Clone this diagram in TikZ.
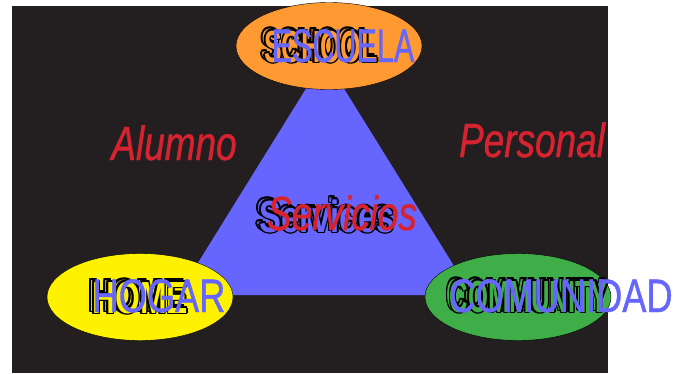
\documentclass[tikz,border=0pt]{standalone}
\usepackage{fontspec}
\setmainfont{Liberation Sans}
\newfontfamily\wordfont[FakeStretch=0.77, FakeBold=0.8]{Liberation Sans}
\newfontfamily\escuelafont[FakeStretch=0.65, FakeBold=0.8]{Liberation Sans}
\newfontfamily\homefont[FakeStretch=0.71]{Liberation Sans}
\newfontfamily\servfont[FakeStretch=0.73]{Liberation Sans}
\newfontfamily\schoolfont[FakeStretch=0.59]{Liberation Sans}
\newfontfamily\commfont[FakeStretch=0.57]{Liberation Sans}
\usepackage[usenames, dvipsnames, x11names]{xcolor}
\usepackage{tikz}
\usetikzlibrary{shapes.geometric}
\definecolor{BoardDark}{HTML}{231F20}
\definecolor{TriBlue}{HTML}{6666FF}
\definecolor{SchoolOrange}{HTML}{FF9A33}
\definecolor{HomeYellow}{HTML}{FFF200}
\definecolor{CommGreen}{HTML}{3FAE49}
\definecolor{LinkRed}{HTML}{D7232F}
\tikzset{
  place/.style={ellipse, draw=black, thin, minimum width=186, minimum height=87},
  engword/.style={text=black, anchor=base, inner sep=0},
  spanword/.style={font=\wordfont\fontsize{47}{50}\selectfont, text=TriBlue, anchor=base, inner sep=0},
  linkword/.style={font=\wordfont\itshape\fontsize{48}{50}\selectfont, text=LinkRed, anchor=base, inner sep=0}
}
% outlined word: name, x, y, inner colour, font, text
\newcommand\outlineword[6]{%
  \foreach \gx/\gy in {-1.6/0, 1.6/0, 0/-1.6, 0/1.6, -1.15/-1.15, 1.15/1.15, -1.15/1.15, 1.15/-1.15}
    \node[engword, font=#5] at (#2+\gx, #3+\gy) {#6};
  \node[engword, font=#5, text=#4] (#1) at (#2, #3) {#6};
}

\begin{document}
\begin{tikzpicture}[x=1pt, y=-1pt]
        \useasboundingbox (0,0) rectangle (674,373);
        \fill[BoardDark] (12,6) rectangle (608,373);
        \fill[TriBlue] (325,58) -- (472,295) -- (178,295) -- cycle;
        \node[place, fill=SchoolOrange] (school) at (329,46) {};
        \node[place, fill=HomeYellow] (home) at (140,297) {};
        \node[place, fill=CommGreen] (community) at (518,297) {};
        % english words, ghosted twice
        \outlineword{schoolback}{318}{60}{SchoolOrange}{\schoolfont\bfseries\fontsize{45}{48}\selectfont}{SCHOOL}
        \outlineword{schoolword}{321}{62}{SchoolOrange}{\schoolfont\bfseries\fontsize{45}{48}\selectfont}{SCHOOL}
        \outlineword{homeback}{137}{311}{HomeYellow}{\homefont\bfseries\fontsize{45}{48}\selectfont}{HOME}
        \outlineword{homeword}{140}{313}{HomeYellow}{\homefont\bfseries\fontsize{45}{48}\selectfont}{HOME}
        \outlineword{commback}{526}{310}{CommGreen}{\commfont\bfseries\fontsize{45}{48}\selectfont}{COMMUNITY}
        \outlineword{commword}{529}{312}{CommGreen}{\commfont\bfseries\fontsize{45}{48}\selectfont}{COMMUNITY}
        \outlineword{servback}{324}{230}{TriBlue}{\servfont\bfseries\fontsize{45}{48}\selectfont}{Services}
        \outlineword{servword}{327}{232}{TriBlue}{\servfont\bfseries\fontsize{45}{48}\selectfont}{Services}
        % spanish words
        \node[spanword, font=\escuelafont\fontsize{47}{50}\selectfont] (escuela) at (343,62) {ESCUELA};
        \node[spanword] (hogar) at (159,312) {HOGAR};
        \node[spanword] (comunidad) at (561,312) {COMUNIDAD};
        \node[linkword] (servicios) at (342,230) {Servicios};
        \node[linkword] (alumno) at (174,160) {Alumno};
        \node[linkword] (personal) at (532,157) {Personal};
\end{tikzpicture}
\end{document}
